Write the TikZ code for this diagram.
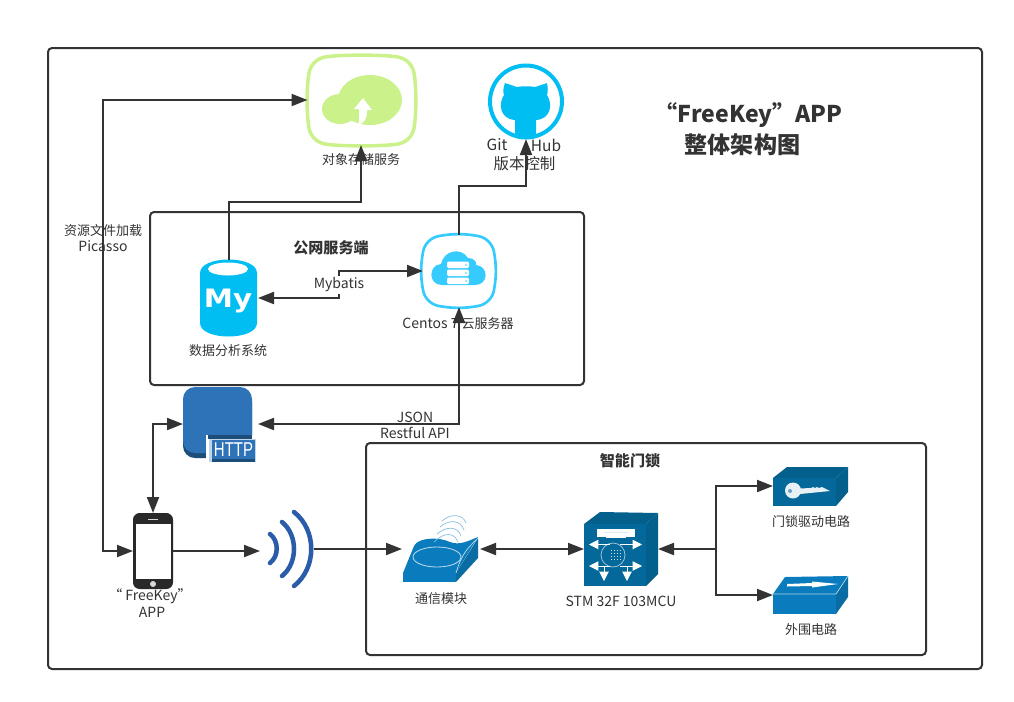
\documentclass[tikz,border=0pt]{standalone}
\usepackage{fontspec}
\usepackage{graphicx}
\setmainfont{Noto Sans CJK SC}
\newfontfamily\dejafont{DejaVu Sans}
\newfontfamily\libfont{Liberation Sans}
\usetikzlibrary{arrows.meta,calc}
\definecolor{ink}{HTML}{333333}
\definecolor{greenc}{HTML}{CBF18A}
\definecolor{cyanc}{HTML}{00BEF2}
\definecolor{skyc}{HTML}{35CBFF}
\definecolor{httpc}{HTML}{2E73B8}
\definecolor{httpd}{HTML}{1D4E79}
\definecolor{wific}{HTML}{2A5CAA}
\definecolor{cubef}{HTML}{04699A}
\definecolor{cubet}{HTML}{035F8B}
\definecolor{boxf}{HTML}{0A7BBD}
\definecolor{boxs}{HTML}{0B6CA3}
\newcommand{\lat}{\fontsize{10.5pt}{12pt}\selectfont}
\tikzset{
  frame/.style={draw=ink,line width=1.5pt,rounded corners=3pt},
  lab/.style={text=ink,font=\fontsize{9.75pt}{12pt}\selectfont,inner sep=0pt},
  latlab/.style={text=ink,font=\lat,inner sep=0pt},
  biglab/.style={text=ink,font=\fontsize{11.6pt}{14pt}\selectfont,inner sep=0pt},
  boldlab/.style={text=ink,font=\fontsize{11.3pt}{14pt}\selectfont\bfseries,inner sep=0pt},
  ttl/.style={text=ink,font=\fontsize{17.3pt}{20pt}\selectfont\bfseries,inner sep=0pt},
  conn/.style={draw=ink,line width=1.5pt},
  tip/.style={-{Triangle[length=12pt,width=9pt]}},
  tips/.style={{Triangle[length=12pt,width=9pt]}-{Triangle[length=12pt,width=9pt]}},
  rtip/.style={{Triangle[length=12pt,width=9pt]}-},
  slot/.style n args={2}{inner sep=0pt,outer sep=0pt,minimum width=#1*0.75pt,minimum height=#2*0.75pt},
}
\newcommand{\squircle}[6]{% x1 y1 x2 y2 colour width
  \draw[draw=#5,line width=#6,fill=white]
    ({#1+16},#2) .. controls ({#1+30},{#2-2.5}) and ({#3-30},{#2-2.5}) .. ({#3-16},#2)
    .. controls ({#3-8},{#2+1.3}) and ({#3-1.3},{#2+8}) .. (#3,{#2+16})
    .. controls ({#3+2.5},{#2+30}) and ({#3+2.5},{#4-30}) .. (#3,{#4-16})
    .. controls ({#3-1.3},{#4-8}) and ({#3-8},{#4-1.3}) .. ({#3-16},#4)
    .. controls ({#3-30},{#4+2.5}) and ({#1+30},{#4+2.5}) .. ({#1+16},#4)
    .. controls ({#1+8},{#4-1.3}) and ({#1+1.3},{#4-8}) .. (#1,{#4-16})
    .. controls ({#1-2.5},{#4-30}) and ({#1-2.5},{#2+30}) .. (#1,{#2+16})
    .. controls ({#1+1.3},{#2+8}) and ({#1+8},{#2+1.3}) .. ({#1+16},#2) -- cycle;}
\begin{document}
\begin{tikzpicture}[x=0.75pt,y=-0.75pt]
\useasboundingbox (0,0) rectangle (1014,701);
\fill[white] (0,0) rectangle (1014,701);
% frames
\node[frame,slot={934}{621}] (outer) at (515,358.5) {};
\node[frame,slot={434}{173}] (pub) at (367,298.5) {};
\node[frame,slot={560}{212}] (lockf) at (646,549) {};
% icon slots
\node[slot={107}{90}] (store) at (361,100) {};
\node[slot={76}{76}] (git) at (526,101) {};
\node[slot={72}{72}] (server) at (459,271) {};
\node[slot={58}{77}] (db) at (229,298) {};
\node[slot={75}{74}] (http) at (220.5,424) {};
\node[slot={40}{76}] (phone) at (153,551) {};
\node[slot={54}{74}] (wifi) at (287,549) {};
\node[slot={78}{68}] (comm) at (441,549) {};
\node[slot={74}{72}] (mcu) at (621,549) {};
\node[slot={76}{40}] (lockb) at (811,486) {};
\node[slot={76}{38}] (peri) at (811,595) {};
% object storage
\squircle{309}{57}{414}{144}{greenc}{2.6pt}
\fill[greenc] (370,100) ellipse [x radius=32,y radius=25];
\fill[greenc] (340,109) ellipse [x radius=18,y radius=15];
\fill[white] (354,109) -- (363,98) -- (372,110) -- (367,110) -- (367,112)
  .. controls (367,119) and (364,123) .. (358,125) .. controls (360,121) and (359,115) .. (359,109) -- cycle;
% github
\draw[cyanc,line width=3pt] (526,101.5) circle (36);
\fill[cyanc] (505,83) -- (517,87) .. controls (522,86) and (530,86) .. (535,87) -- (547,83)
  .. controls (548,88) and (548,92) .. (547,95) .. controls (553,104) and (551,119) .. (536,120)
  -- (536,135) .. controls (530,138) and (521,138) .. (515,135) -- (515,120)
  .. controls (500,119) and (498,104) .. (504,95) .. controls (503,92) and (503,88) .. (505,83) -- cycle;
% server
\squircle{423}{236}{494}{306}{skyc}{2pt}
\fill[skyc] (442,285) .. controls (428,285) and (428,265) .. (441,264)
  .. controls (444,250) and (461,247) .. (468,258) .. controls (474,258) and (477,262) .. (476,265)
  .. controls (489,266) and (489,285) .. (475,285) -- cycle;
\foreach \yy in {265,273,281}{
  \fill[white,rounded corners=1pt] (447,{\yy-3.5}) rectangle (469,{\yy+3});
  \fill[skyc] (466,{\yy}) circle (0.9);}
% database
\fill[cyanc] (200,273) .. controls (200,255) and (257,255) .. (257,273) -- (257,323)
  .. controls (257,341) and (200,341) .. (200,323) -- cycle;
\fill[white] (228,269) ellipse [x radius=20,y radius=6.5];
\node[text=white,inner sep=0pt,font=\dejafont\bfseries\fontsize{20pt}{20pt}\selectfont] (mylogo) at (228,301) {\scalebox{1.1}[0.95]{My}};
% http
\fill[httpd,rounded corners=9pt] (183,390) rectangle (252,458);
\fill[httpc,rounded corners=9pt] (183,387) rectangle (252,453);
\fill[white] (206,435) rectangle (258,465);
\fill[httpd] (208,435) rectangle (252,439);
\fill[white!70!httpc] (209,439) rectangle (255.5,462);
\fill[httpc] (211.5,440) rectangle (255,459);
\fill[httpd] (211.5,459) rectangle (255,462);
\node[text=white,inner sep=0pt,font=\libfont\fontsize{15pt}{15pt}\selectfont] (httpt) at (233.5,449.5) {\scalebox{0.75}[1]{HTTP}};
% phone
\fill[black!20!ink,rounded corners=5pt] (133,513) rectangle (173,589);
\fill[white] (136,524) rectangle (171,579);
\fill[black!15] (153,584) circle (3);
\fill[black!15] (148,518.5) rectangle (158,519.5);
% wifi
\draw[wific,line width=3.4pt,line cap=round] (270,534) .. controls (279,541) and (279,556) .. (270,563);
\draw[wific,line width=3.4pt,line cap=round] (282,522) .. controls (298,535) and (298,563) .. (282,576);
\draw[wific,line width=3.4pt,line cap=round] (294,512) .. controls (317,530) and (317,568) .. (294,586);
% comm
\fill[boxf] (403,573) -- (456,573) -- (456,582) -- (403,582) -- cycle;
\fill[boxs] (456,573) -- (478,538) -- (478,558) -- (456,582) -- cycle;
\fill[boxf] (403,573) -- (414,546) .. controls (418,537) and (440,537) .. (450,542) .. controls (460,546) and (470,540) .. (478,537) -- (456,573) -- cycle;
\draw[white!75!boxf,line width=0.6pt] (437,557) ellipse [x radius=24,y radius=10];
\draw[white!75!boxf,line width=0.5pt] (456,573) .. controls (462,552) and (470,546) .. (478,538);
\draw[white!50!boxf,line width=0.5pt] (434,542) .. controls (444,532) and (454,532) .. (458,542);
\draw[white!50!boxf,line width=0.5pt] (437,534) .. controls (446,526) and (458,526) .. (461,536);
\draw[white!50!boxf,line width=0.5pt] (440,527) .. controls (449,519) and (461,520) .. (464,530);
\draw[white!50!boxf,line width=0.5pt] (442,521) .. controls (451,513) and (463,514) .. (466,523);
% mcu
\fill[cubet] (584,524) -- (600,512) -- (658,513) -- (646,524) -- cycle;
\fill[cubef] (584,524) rectangle (646,586);
\fill[cubet] (646,524) -- (658,513) -- (658,574) -- (646,586) -- cycle;
\fill[white] (597,529) rectangle (635,537);
\fill[cubef] (606,529) -- (626,529) -- (628,532) -- (604,532) -- cycle;
\fill[white] (597,529) rectangle (635,532);
\fill[white] (606,535) rectangle (626,538);
\draw[white!60!cubef,line width=0.6pt] (613,555) circle (12);
\foreach \i in {-1.5,-0.5,0.5,1.5}\foreach \j in {-1.5,-0.5,0.5,1.5}{\fill[white!80!cubef] ({615+\i*3},{554+\j*3}) rectangle ({616.6+\i*3},{555.6+\j*3});}
\draw[white,line width=0.75pt,-{Triangle[length=7pt,width=7pt]}] (610,544.5) -- (589,544.5);
\draw[white,line width=0.75pt,-{Triangle[length=7pt,width=7pt]}] (620,544.5) -- (642,544.5);
\draw[white,line width=0.75pt,-{Triangle[length=7pt,width=7pt]}] (610,566) -- (589,566);
\draw[white,line width=0.75pt,-{Triangle[length=7pt,width=7pt]}] (620,566) -- (642,566);
\draw[white,line width=0.75pt,-{Triangle[length=7pt,width=7pt]}] (604,566) -- (604,581);
\draw[white,line width=0.75pt,-{Triangle[length=7pt,width=7pt]}] (627,566) -- (627,581);
% lock box
\fill[cubet] (773,478) -- (787,467) -- (848,467) -- (836,478) -- cycle;
\fill[cubef] (773,478) rectangle (836,506);
\fill[cubet] (836,478) -- (848,467) -- (848,492) -- (836,506) -- cycle;
\fill[white!90!cubef] (793,490.5) circle (8);
\fill[cubef!60!white] (790,491) circle (2);
\fill[white!90!cubef] (799,488.5) -- (811,488) -- (813,487) -- (815,488) -- (817,487) -- (819,488) -- (822,487) -- (830,491) -- (800,494) -- cycle;
% peripheral box
\fill[boxf] (773,594) -- (785,577) -- (848,576) -- (836,594) -- cycle;
\fill[boxf] (773,594) rectangle (836,614);
\fill[boxs] (836,594) -- (848,576) -- (848,597) -- (836,614) -- cycle;
\draw[white!70!boxf,line width=0.5pt] (773,594) -- (836,594) -- (848,576);
\fill[white] (787,584) -- (812,583) -- (812,581.5) -- (838,584) -- (812,587.5) -- (812,586) -- (787,586.5) -- cycle;
% labels
\node[lab] (t1) at (361,160) {对象存储服务};
\node[biglab] (t2) at (497,145) {Git};
\node[biglab] (t3) at (546,145) {Hub};
\node[biglab] (t4) at (524.5,163.5) {版本控制};
\node[ttl] (t5) at (748.5,115) {“FreeKey”\hspace{-0.25em} APP};
\node[ttl] (t6) at (742.5,145) {整体架构图};
\node[boldlab] (t7) at (331,248) {公网服务端};
\node[lab] (t8) at (228,351) {数据分析系统};
\node[lab] (t9) at (458,324) {{\lat Centos 7} 云服务器};
\node[latlab] (t10) at (415,417) {JSON};
\node[latlab] (t11) at (415,433) {Restful API};
\node[lab,align=center] (t12) at (103,238) {资源文件加载\\{\lat Picasso}};
\node[latlab] (t13) at (150,596.5) {“ FreeKey”};
\node[latlab] (t14) at (152,612) {APP};
\node[lab] (t15) at (441,599) {通信模块};
\node[latlab] (t16) at (621,601) {STM 32F 103MCU};
\node[boldlab] (t17) at (630,461) {智能门锁};
\node[lab] (t18) at (811,522) {门锁驱动电路};
\node[lab] (t19) at (811,630) {外围电路};
\node[latlab,inner sep=1.5pt] (mybatis) at (339,285) {Mybatis};
% connectors
\coordinate (j1) at (300,202);
\coordinate (j2) at (490,186);
\coordinate (j3) at (103,200);
\coordinate (j4) at (716,549);
\draw[conn,tip] (db.north) |- (j1) -| (store.south);
\draw[conn,tip] (server.north) |- (j2) -| (git.south);
\draw[conn,tip] (mybatis.north) |- (server.west);
\draw[conn,tip] (mybatis.south) |- (db.east);
\draw[conn,tips] (http.east) -| (server.south);
\draw[conn,tips] (http.west) -| (phone.north);
\fill[white] (t12.north west) rectangle (t12.south east);
\draw[conn,tips] (phone.west) -| (j3) |- (store.west);
\node[lab,align=center] at (t12) {资源文件加载\\{\lat Picasso}};
\draw[conn,tip] (phone.east) -- (phone.east -| wifi.west);
\draw[conn,tip] (wifi.east) -- (comm.west);
\draw[conn,tips] (comm.east) -- (mcu.west);
\draw[conn,rtip] (mcu.east) -- (j4);
\draw[conn,tip] (j4) |- (lockb.west);
\draw[conn,tip] (j4) |- (peri.west);
\end{tikzpicture}
\end{document}
